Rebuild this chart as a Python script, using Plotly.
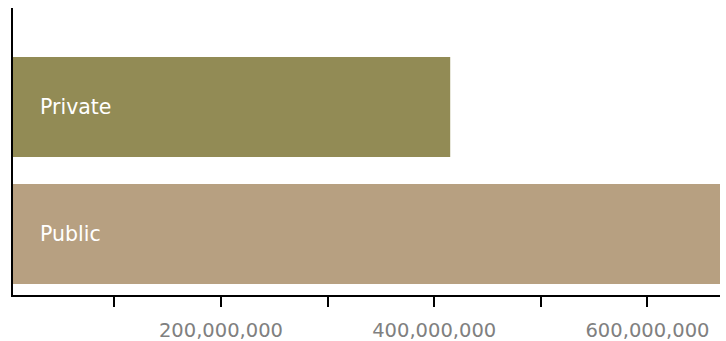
import plotly.graph_objects as go

# Funding by sector
categories = ["Public", "Private"]
values = [668_000_000, 415_000_000]
colors = ["#B7A081", "#928B55"]

tick_values = [100_000_000, 200_000_000, 300_000_000, 400_000_000, 500_000_000, 600_000_000]
tick_labels = ["", "200,000,000", "", "400,000,000", "", "600,000,000"]

x_range = [5_000_000, 668_000_000]

fig = go.Figure(
    go.Bar(
        x=values,
        y=list(range(len(categories))),
        orientation="h",
        marker=dict(color=colors, line=dict(width=0)),
        width=0.787,
        hoverinfo="skip",
    )
)

# Category names inside each bar, at its left end
for i, name in enumerate(categories):
    fig.add_annotation(
        x=0, xref="paper", y=i, yref="y",
        text=name, showarrow=False,
        xanchor="left", xshift=25,
        font=dict(family="DejaVu Sans", size=20.5, color="white"),
    )

fig.update_layout(
    width=726, height=341,
    margin=dict(l=13, r=6, t=8, b=46),
    paper_bgcolor="white", plot_bgcolor="white",
    showlegend=False,
    xaxis=dict(
        range=x_range,
        automargin=False,
        tickvals=tick_values, ticktext=tick_labels,
        ticks="outside", ticklen=10, tickwidth=2, tickcolor="black",
        showline=True, linecolor="black", linewidth=2,
        showgrid=False, zeroline=False,
        tickfont=dict(family="DejaVu Sans", size=19.5, color="#808080"),
        ticklabelstandoff=7,
    ),
    yaxis=dict(
        range=[-0.48, 1.78],
        automargin=False,
        showticklabels=False, ticks="",
        showline=True, linecolor="black", linewidth=2,
        showgrid=False, zeroline=False,
    ),
)

fig.write_html("out.html")
